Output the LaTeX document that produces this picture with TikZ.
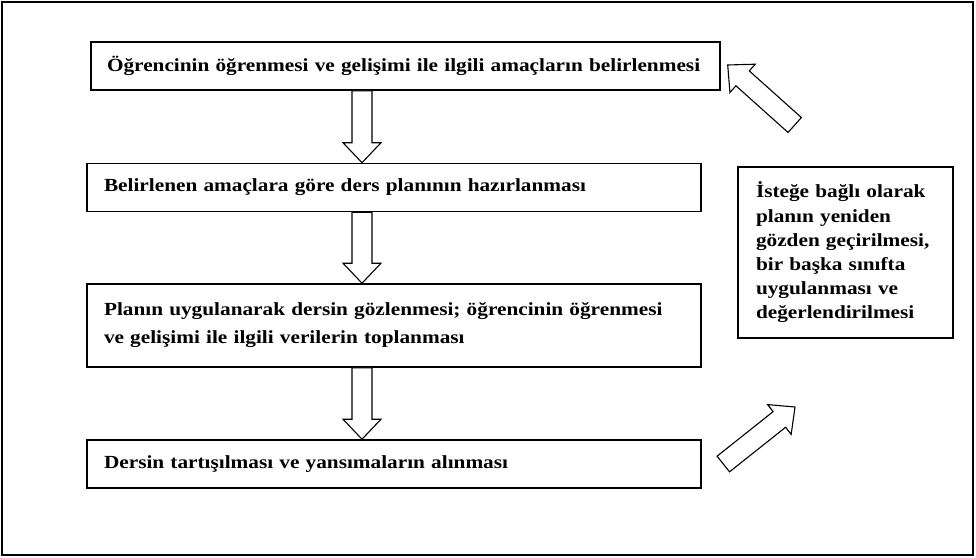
\documentclass[tikz,border=0pt]{standalone}
\usepackage{fontspec}
\setmainfont[FakeStretch=1.15]{Liberation Serif}
\usetikzlibrary{calc}

% hollow block arrow from #1 to #2
\newcommand{\hollowarrow}[2]{%
  \coordinate (ha) at ($(#2)!20pt!(#1)$);
  \draw[hollow] ($(#1)!10pt!90:(#2)$) -- ($(ha)!10pt!90:(#2)$) -- ($(ha)!19pt!90:(#2)$) -- (#2)
    -- ($(ha)!19pt!-90:(#2)$) -- ($(ha)!10pt!-90:(#2)$) -- ($(#1)!10pt!-90:(#2)$) -- cycle;}

\begin{document}
\begin{tikzpicture}[x=1pt,y=-1pt,
  stage/.style={draw,line width=1.6pt,minimum height=48pt,inner xsep=17pt,text width=580pt,align=left,font=\bfseries\fontsize{18.5}{28}\selectfont},
  widestage/.style={stage,inner xsep=16pt,text width=597pt},
  note/.style={draw,line width=1.6pt,minimum height=171pt,inner xsep=18pt,text width=179pt,align=left,font=\bfseries\fontsize{18.5}{24.2}\selectfont},
  hollow/.style={draw,line width=1.1pt,fill=white}
]
\useasboundingbox (0,0) rectangle (976,557);
\draw[line width=2.2pt] (2,2) rectangle (973,555);

\node[widestage] (goals) at (405.5,66) {Öğrencinin öğrenmesi ve gelişimi ile ilgili amaçların belirlenmesi};
\node[stage] (plan) at (394,187.5) {Belirlenen amaçlara göre ders planının hazırlanması};
\node[stage,minimum height=83pt] (observe) at (394,325.5) {Planın uygulanarak dersin gözlenmesi; öğrencinin öğrenmesi\\ve gelişimi ile ilgili verilerin toplanması};
\node[stage] (discuss) at (394,464) {Dersin tartışılması ve yansımaların alınması};
\node[note] (revise) at (845.5,252.5) {İsteğe bağlı olarak\\planın yeniden\\gözden geçirilmesi,\\bir başka sınıfta\\uygulanması ve\\değerlendirilmesi};

% flow arrows
\coordinate (ax) at (362,0);
\coordinate (f1) at (goals.south -| ax);
\coordinate (t1) at (plan.north -| ax);
\coordinate (f2) at (plan.south -| ax);
\coordinate (t2) at (observe.north -| ax);
\coordinate (f3) at (observe.south -| ax);
\coordinate (t3) at (discuss.north -| ax);
\hollowarrow{f1}{t1}
\hollowarrow{f2}{t2}
\hollowarrow{f3}{t3}

% loop arrows
\coordinate (backtail) at (794.7,125);
\coordinate (backtip) at (727.7,65);
\coordinate (uptail) at (723.3,464);
\coordinate (uptip) at (795,407);
\hollowarrow{backtail}{backtip}
\hollowarrow{uptail}{uptip}
\end{tikzpicture}
\end{document}
